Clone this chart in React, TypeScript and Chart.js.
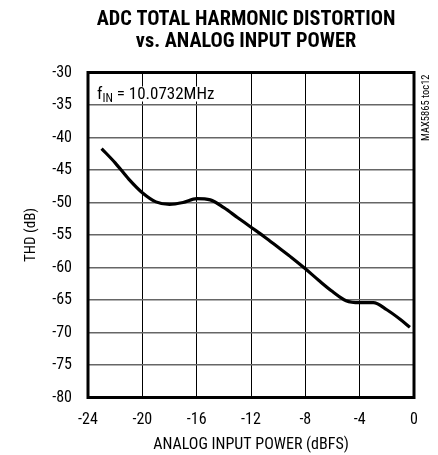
import React, { useEffect, useRef } from "react";
import { Chart, registerables } from "chart.js";

Chart.register(...registerables);

const inputPower = [-23, -22, -21, -20, -19, -18, -17, -16, -15, -14, -13, -12, -11, -10, -9, -8, -7, -6, -5, -4, -3, -2, -1, -0.3];
const thd = [-41.7, -43.9, -46.4, -48.5, -49.9, -50.3, -50.0, -49.4, -49.6, -50.8, -52.3, -53.8, -55.3, -56.9, -58.5, -60.2, -62.0, -63.7, -65.1, -65.4, -65.4, -66.5, -68.0, -69.2];

const titleLines = ["ADC TOTAL HARMONIC DISTORTION", "vs. ANALOG INPUT POWER"];
const xTitle = "ANALOG INPUT POWER (dBFS)";
const yTitle = "THD (dB)";
const sideNote = "MAX5865 toc12";
const annotationMain = "f";
const annotationSub = "IN";
const annotationRest = " = 10.0732MHz";

const FONT = "'Roboto Condensed', 'Liberation Sans Narrow', 'Liberation Sans', Arial, sans-serif";

export default function App() {
  const ref = useRef<HTMLCanvasElement | null>(null);

  useEffect(() => {
    document.body.style.margin = "0";
    const canvas = ref.current;
    if (!canvas) return;

    const overlay = {
      id: "overlay",
      beforeDatasetsDraw(chart: any) {
        const ctx = chart.ctx;
        const area = chart.chartArea;
        ctx.save();
        ctx.font = `17px ${FONT}`;
        const w1 = ctx.measureText(annotationMain).width;
        ctx.font = `12px ${FONT}`;
        const w2 = ctx.measureText(annotationSub).width;
        ctx.font = `17px ${FONT}`;
        const w3 = ctx.measureText(annotationRest).width;
        const x0 = area.left + 9;
        const base = area.top + 26;
        ctx.fillStyle = "#fff";
        ctx.fillRect(x0 - 2, area.top + 14, w1 + w2 + w3 + 5, 15);
        ctx.fillStyle = "#000";
        ctx.textBaseline = "alphabetic";
        ctx.textAlign = "left";
        ctx.fillText(annotationMain, x0, base);
        ctx.font = `12px ${FONT}`;
        ctx.fillText(annotationSub, x0 + w1, base + 3);
        ctx.font = `17px ${FONT}`;
        ctx.fillText(annotationRest, x0 + w1 + w2, base);
        ctx.restore();
      },
      afterDraw(chart: any) {
        const ctx = chart.ctx;
        const area = chart.chartArea;
        ctx.save();
        ctx.strokeStyle = "#000";
        ctx.lineWidth = 3;
        ctx.strokeRect(area.left, area.top, area.right - area.left, area.bottom - area.top);
        ctx.fillStyle = "#000";
        ctx.textAlign = "center";
        ctx.textBaseline = "middle";
        ctx.font = `bold 20.3px ${FONT}`;
        const cx = (area.left + area.right) / 2 - 5;
        ctx.fillText(titleLines[0], cx, 20);
        ctx.fillText(titleLines[1], cx, 42);
        ctx.font = `10.5px ${FONT}`;
        ctx.translate(426, area.top + 2);
        ctx.rotate(-Math.PI / 2);
        ctx.textAlign = "right";
        ctx.textBaseline = "middle";
        ctx.fillText(sideNote, 0, 0);
        ctx.restore();
      },
    };

    const chart = new Chart(canvas, {
      type: "scatter",
      data: {
        datasets: [
          {
            data: inputPower.map((x, i) => ({ x, y: thd[i] })),
            showLine: true,
            borderColor: "#000",
            borderWidth: 3.2,
            pointRadius: 0,
            cubicInterpolationMode: "monotone",
          },
        ],
      },
      options: {
        animation: false,
        responsive: false,
        maintainAspectRatio: false,
        layout: { padding: { left: 22, right: 24, top: 72.5, bottom: 0 } },
        plugins: { legend: { display: false }, tooltip: { enabled: false }, title: { display: false } },
        scales: {
          x: {
            type: "linear",
            min: -24,
            max: 0,
            afterBuildTicks(scale: any) {
              scale.ticks = [-24, -20, -16, -12, -8, -4, 0].map((v) => ({ value: v }));
            },
            afterFit(scale: any) {
              scale.height = 57.5;
            },
            grid: { color: "#000", lineWidth: 1, drawTicks: false },
            border: { display: false },
            ticks: { color: "#000", font: { family: FONT, size: 16 }, padding: 13 },
            title: { display: true, text: xTitle, color: "#000", font: { family: FONT, size: 16 }, padding: { top: 2, bottom: 0 } },
          },
          y: {
            type: "linear",
            min: -80,
            max: -30,
            afterBuildTicks(scale: any) {
              scale.ticks = [-80, -75, -70, -65, -60, -55, -50, -45, -40, -35, -30].map((v) => ({ value: v }));
            },
            afterFit(scale: any) {
              scale.width = 66;
            },
            grid: { color: "#666", lineWidth: 1.5, drawTicks: false },
            border: { display: false },
            ticks: { color: "#000", font: { family: FONT, size: 16 }, padding: 16 },
            title: { display: true, text: yTitle, color: "#000", font: { family: FONT, size: 15 }, padding: { top: 0, bottom: 0 } },
          },
        },
      },
      plugins: [overlay],
    } as any);

    return () => chart.destroy();
  }, []);

  return (
    <div style={{ position: "absolute", left: 0, top: 0, width: 438, height: 455, background: "#fff" }}>
      <canvas ref={ref} width={438} height={455} style={{ width: 438, height: 455, display: "block" }} />
    </div>
  );
}
